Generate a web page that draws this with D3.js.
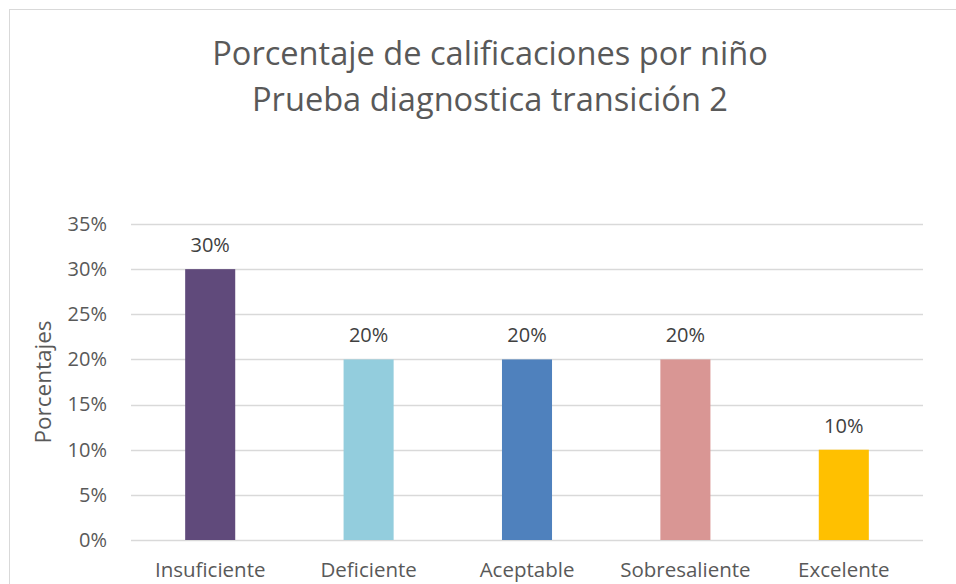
<!DOCTYPE html>
<html>
<head>
<meta charset="utf-8">
<script src="https://cdn.jsdelivr.net/npm/d3@7"></script>
<style>
  body { margin: 0; background: #fff; }
  text { font-family: "Open Sans", sans-serif; fill: #595959; }
</style>
</head>
<body>
<script>
// Data
var categories = ["Insuficiente", "Deficiente", "Aceptable", "Sobresaliente", "Excelente"];
var values = [0.30, 0.20, 0.20, 0.20, 0.10];
var colors = ["#604A7B", "#93CDDD", "#4F81BD", "#D99694", "#FFC000"];
var yTicks = [0, 0.05, 0.10, 0.15, 0.20, 0.25, 0.30, 0.35];
var titleLines = ["Porcentaje de calificaciones por niño", "Prueba diagnostica transición 2"];

var W = 956, H = 584;
var margin = {top: 224, right: 33, bottom: 44, left: 131};
var width = W - margin.left - margin.right,
    height = H - margin.top - margin.bottom;

var svg = d3.select("body").append("svg")
    .attr("width", W)
    .attr("height", H);

// chart border
svg.append("rect")
    .attr("x", 9.5).attr("y", 9.5)
    .attr("width", W + 20).attr("height", H + 20)
    .attr("fill", "none")
    .attr("stroke", "#d9d9d9");

// title
svg.selectAll(".title")
    .data(titleLines)
    .enter().append("text")
    .attr("class", "title")
    .attr("x", 490)
    .attr("y", function(d, i) { return 65 + i * 46; })
    .attr("text-anchor", "middle")
    .style("font-size", "32.6px")
    .text(function(d) { return d; });

var g = svg.append("g")
    .attr("transform", "translate(" + margin.left + "," + margin.top + ")");

var x = d3.scaleBand()
    .domain(categories)
    .range([0, width])
    .paddingInner(0.684)
    .paddingOuter(0.342);

var y = d3.scaleLinear()
    .domain([0, 0.35])
    .range([height, 0]);

// gridlines
g.selectAll(".grid")
    .data(yTicks)
    .enter().append("line")
    .attr("x1", 0).attr("x2", width)
    .attr("y1", function(d) { return Math.round(y(d)) + 0.5; })
    .attr("y2", function(d) { return Math.round(y(d)) + 0.5; })
    .attr("stroke", "#d9d9d9")
    .attr("stroke-width", 1.3);

// y axis labels
var yAxis = d3.axisLeft(y)
    .tickValues(yTicks)
    .tickFormat(d3.format(".0%"))
    .tickSize(0)
    .tickPadding(24);

g.append("g")
    .attr("class", "y axis")
    .call(yAxis)
    .call(function(s) { s.select(".domain").remove(); })
    .selectAll("text")
    .style("font-size", "20px")
    .style("font-family", "'Open Sans', sans-serif")
    .attr("fill", "#595959");

// x axis labels
var xAxis = d3.axisBottom(x).tickSize(0).tickPadding(22);
g.append("g")
    .attr("class", "x axis")
    .attr("transform", "translate(0," + height + ")")
    .call(xAxis)
    .call(function(s) { s.select(".domain").remove(); })
    .selectAll("text")
    .style("font-size", "20.5px")
    .style("font-family", "'Open Sans', sans-serif")
    .attr("fill", "#595959");

// bars
g.selectAll(".bar")
    .data(values)
    .enter().append("rect")
    .attr("class", "bar")
    .attr("x", function(d, i) { return x(categories[i]); })
    .attr("y", function(d) { return y(d); })
    .attr("width", x.bandwidth())
    .attr("height", function(d) { return height - y(d); })
    .attr("fill", function(d, i) { return colors[i]; });

// data labels
g.selectAll(".bar-label")
    .data(values)
    .enter().append("text")
    .attr("class", "bar-label")
    .attr("x", function(d, i) { return x(categories[i]) + x.bandwidth() / 2; })
    .attr("y", function(d) { return y(d) - 17; })
    .attr("text-anchor", "middle")
    .style("font-size", "20px")
    .style("fill", "#404040")
    .text(function(d) { return d3.format(".0%")(d); });

// y axis title
svg.append("text")
    .attr("transform", "translate(51," + (margin.top + height / 2) + ") rotate(-90)")
    .attr("text-anchor", "middle")
    .style("font-size", "22.5px")
    .text("Porcentajes");
</script>
</body>
</html>
